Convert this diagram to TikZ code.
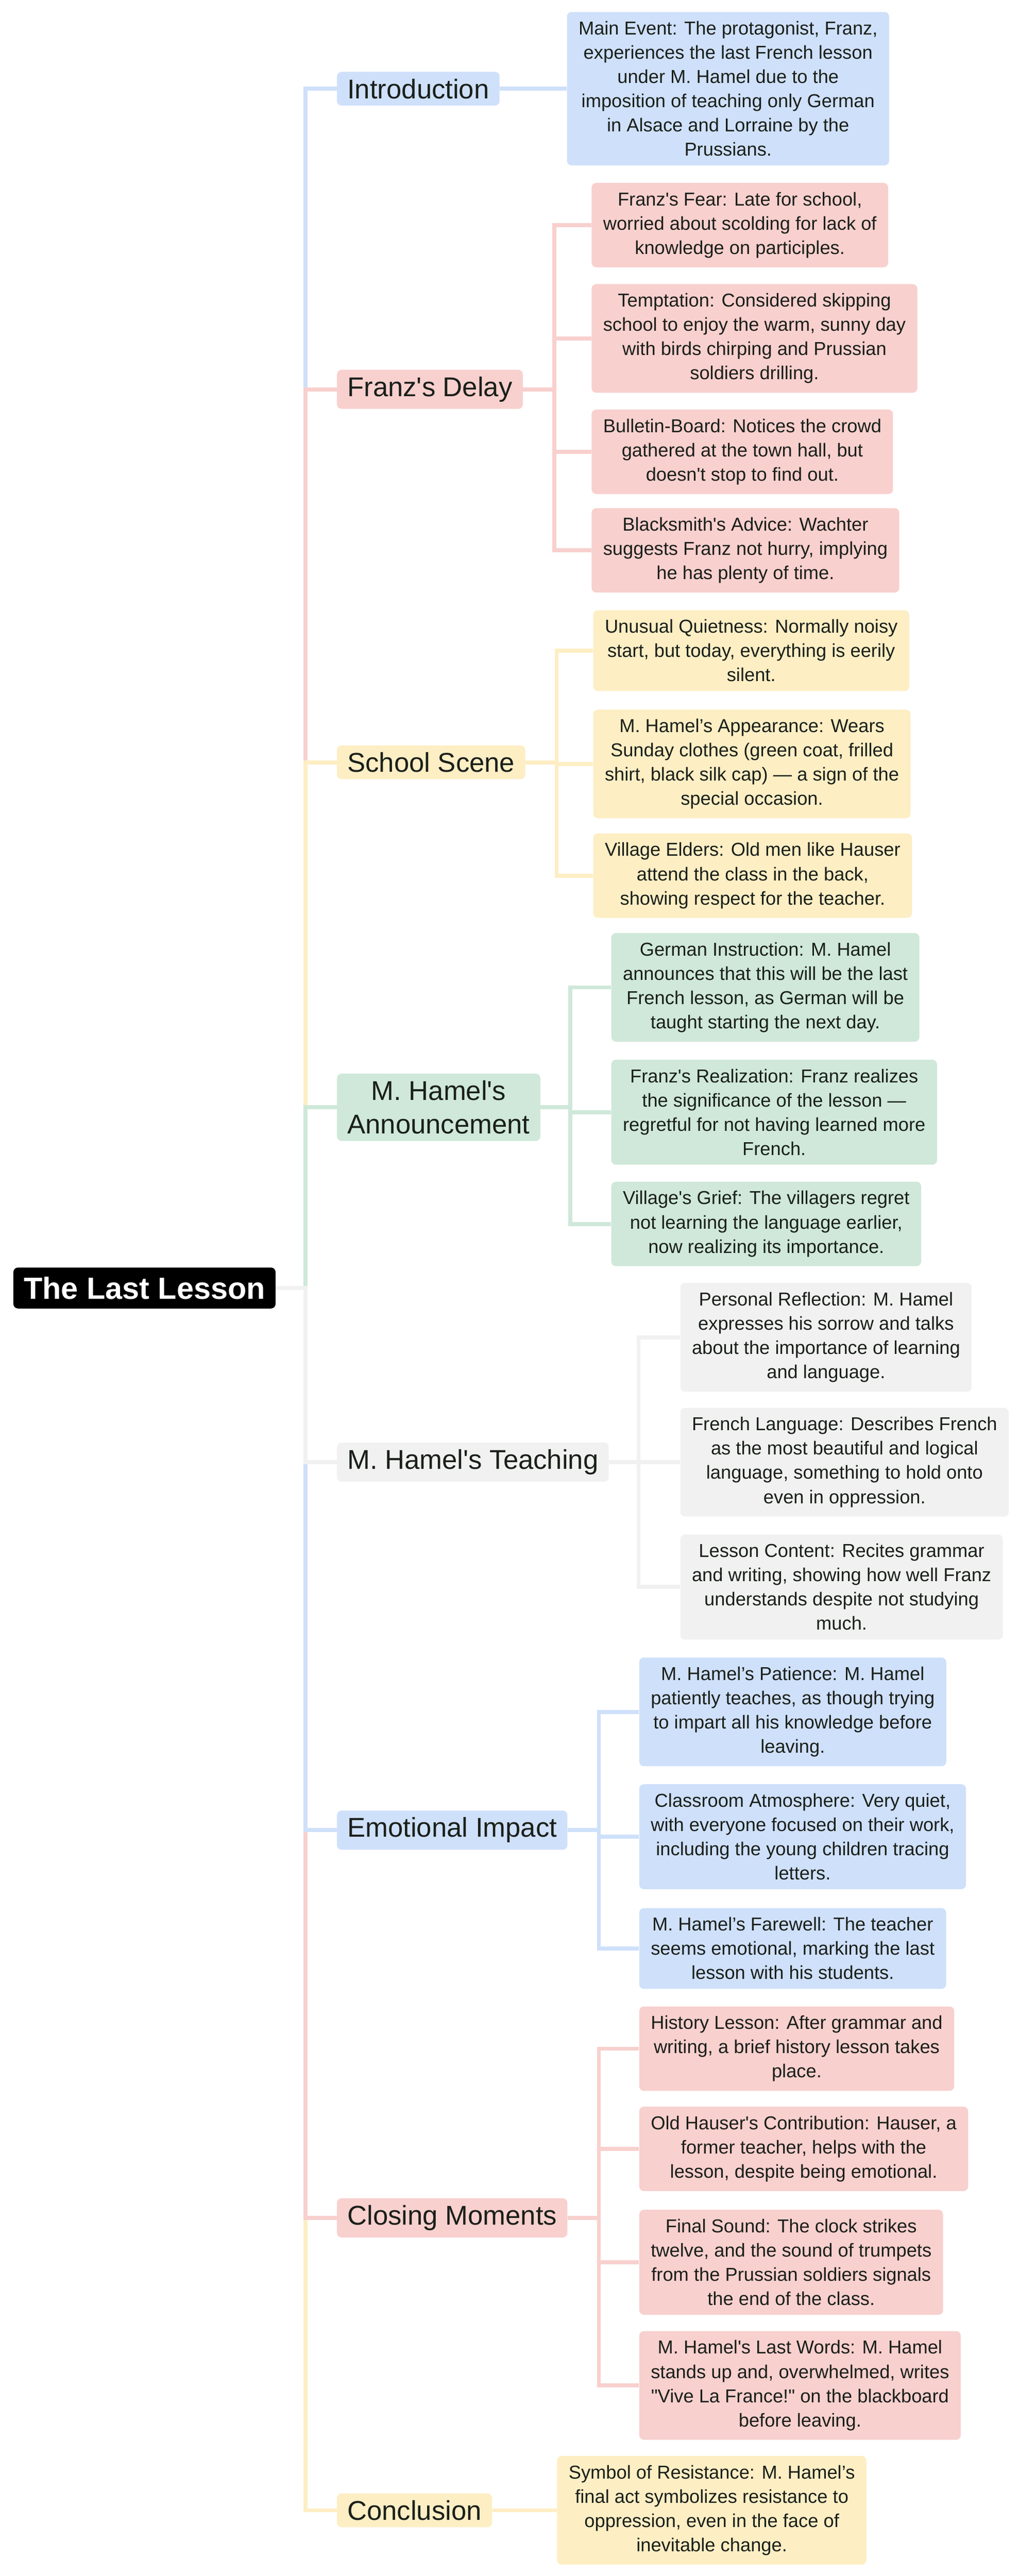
\documentclass[tikz,border=0pt]{standalone}
\usepackage{fontspec}
\defaultfontfeatures{}
\defaultfontfeatures[\rmfamily]{}
\setmainfont{Liberation Sans}
\definecolor{bluefill}{HTML}{CFE0FA}
\definecolor{redfill}{HTML}{F8D0CE}
\definecolor{yellowfill}{HTML}{FDEEC4}
\definecolor{greenfill}{HTML}{CFE8D9}
\definecolor{greyfill}{HTML}{F0F1F0}
\definecolor{inkcol}{HTML}{1A1F1A}
\begin{document}
\begin{tikzpicture}[x=0.05cm,y=-0.05cm]
	\tikzset{
		root/.style={fill=black,text=white,rounded corners=4pt,font=\fontsize{26.5}{30}\selectfont\bfseries,inner xsep=9pt,inner ysep=8pt,anchor=west},
		branch/.style={fill=#1,text=inkcol,rounded corners=4pt,font=\fontsize{23.5}{29}\selectfont,align=center,inner xsep=9pt,inner ysep=6pt,anchor=west},
		leaf/.style={fill=#1,text=inkcol,rounded corners=4pt,font=\fontsize{16.2}{21}\selectfont,align=center,inner xsep=10pt,inner ysep=8pt,anchor=west},
		conn/.style={draw=#1,line width=3.5pt}
	}
	\fill[white] (0,0) rectangle (620,1568);

	\node[root] (ROOT) at (8,784) {The Last Lesson};

	% branches
	\node[branch=bluefill] (INTRO) at (205,54) {Introduction};
	\node[branch=redfill] (DELAY) at (205,237) {Franz's Delay};
	\node[branch=yellowfill] (SCHOOL) at (205,464) {School Scene};
	\node[branch=greenfill] (ANNOUNCE) at (205,674) {M. Hamel's\\Announcement};
	\node[branch=greyfill] (TEACH) at (205,890) {M. Hamel's Teaching};
	\node[branch=bluefill] (IMPACT) at (205,1114) {Emotional Impact};
	\node[branch=redfill] (CLOSING) at (205,1350) {Closing Moments};
	\node[branch=yellowfill] (CONCL) at (205,1528) {Conclusion};

	% leaves
	\node[leaf=bluefill] (INTRO1) at (345,54) {Main Event: The protagonist, Franz,\\experiences the last French lesson\\under M. Hamel due to the\\imposition of teaching only German\\in Alsace and Lorraine by the\\Prussians.};

	\node[leaf=redfill] (DELAY1) at (360,137) {Franz's Fear: Late for school,\\worried about scolding for lack of\\knowledge on participles.};
	\node[leaf=redfill] (DELAY2) at (360,206) {Temptation: Considered skipping\\school to enjoy the warm, sunny day\\with birds chirping and Prussian\\soldiers drilling.};
	\node[leaf=redfill] (DELAY3) at (360,275) {Bulletin-Board: Notices the crowd\\gathered at the town hall, but\\doesn't stop to find out.};
	\node[leaf=redfill] (DELAY4) at (360,335) {Blacksmith's Advice: Wachter\\suggests Franz not hurry, implying\\he has plenty of time.};

	\node[leaf=yellowfill] (SCHOOL1) at (361,396) {Unusual Quietness: Normally noisy\\start, but today, everything is eerily\\silent.};
	\node[leaf=yellowfill] (SCHOOL2) at (361,465) {M. Hamel’s Appearance: Wears\\Sunday clothes (green coat, frilled\\shirt, black silk cap) — a sign of the\\special occasion.};
	\node[leaf=yellowfill] (SCHOOL3) at (361,533) {Village Elders: Old men like Hauser\\attend the class in the back,\\showing respect for the teacher.};

	\node[leaf=greenfill] (ANNOUNCE1) at (372,601) {German Instruction: M. Hamel\\announces that this will be the last\\French lesson, as German will be\\taught starting the next day.};
	\node[leaf=greenfill] (ANNOUNCE2) at (372,677) {Franz's Realization: Franz realizes\\the significance of the lesson —\\regretful for not having learned more\\French.};
	\node[leaf=greenfill] (ANNOUNCE3) at (372,745) {Village's Grief: The villagers regret\\not learning the language earlier,\\now realizing its importance.};

	\node[leaf=greyfill] (TEACH1) at (414,814) {Personal Reflection: M. Hamel\\expresses his sorrow and talks\\about the importance of learning\\and language.};
	\node[leaf=greyfill] (TEACH2) at (414,890) {French Language: Describes French\\as the most beautiful and logical\\language, something to hold onto\\even in oppression.};
	\node[leaf=greyfill] (TEACH3) at (414,966) {Lesson Content: Recites grammar\\and writing, showing how well Franz\\understands despite not studying\\much.};

	\node[leaf=bluefill] (IMPACT1) at (389,1042) {M. Hamel’s Patience: M. Hamel\\patiently teaches, as though trying\\to impart all his knowledge before\\leaving.};
	\node[leaf=bluefill] (IMPACT2) at (389,1118) {Classroom Atmosphere: Very quiet,\\with everyone focused on their work,\\including the young children tracing\\letters.};
	\node[leaf=bluefill] (IMPACT3) at (389,1186) {M. Hamel’s Farewell: The teacher\\seems emotional, marking the last\\lesson with his students.};

	\node[leaf=redfill] (CLOSING1) at (389,1247) {History Lesson: After grammar and\\writing, a brief history lesson takes\\place.};
	\node[leaf=redfill] (CLOSING2) at (389,1308) {Old Hauser's Contribution: Hauser, a\\former teacher, helps with the\\lesson, despite being emotional.};
	\node[leaf=redfill] (CLOSING3) at (389,1377) {Final Sound: The clock strikes\\twelve, and the sound of trumpets\\from the Prussian soldiers signals\\the end of the class.};
	\node[leaf=redfill] (CLOSING4) at (389,1452) {M. Hamel's Last Words: M. Hamel\\stands up and, overwhelmed, writes\\"Vive La France!" on the blackboard\\before leaving.};

	\node[leaf=yellowfill] (CONCL1) at (339,1528) {Symbol of Resistance: M. Hamel’s\\final act symbolizes resistance to\\oppression, even in the face of\\inevitable change.};

	% root to branches, far ones first
	\draw[conn=bluefill] (ROOT.east) -- ++(18,0) |- (INTRO.west);
	\draw[conn=redfill] (ROOT.east) -- ++(18,0) |- (DELAY.west);
	\draw[conn=yellowfill] (ROOT.east) -- ++(18,0) |- (SCHOOL.west);
	\draw[conn=greenfill] (ROOT.east) -- ++(18,0) |- (ANNOUNCE.west);
	\draw[conn=yellowfill] (ROOT.east) -- ++(18,0) |- (CONCL.west);
	\draw[conn=redfill] (ROOT.east) -- ++(18,0) |- (CLOSING.west);
	\draw[conn=bluefill] (ROOT.east) -- ++(18,0) |- (IMPACT.west);
	\draw[conn=greyfill] (ROOT.east) -- ++(18,0) |- (TEACH.west);

	% branches to leaves
	\draw[conn=bluefill] (INTRO.east) -- (INTRO1.west);
	\foreach \n in {1,...,4} \draw[conn=redfill] (DELAY.east) -- ++(19,0) |- (DELAY\n.west);
	\foreach \n in {1,...,3} \draw[conn=yellowfill] (SCHOOL.east) -- ++(19,0) |- (SCHOOL\n.west);
	\foreach \n in {1,...,3} \draw[conn=greenfill] (ANNOUNCE.east) -- ++(18,0) |- (ANNOUNCE\n.west);
	\foreach \n in {1,...,3} \draw[conn=greyfill] (TEACH.east) -- ++(18,0) |- (TEACH\n.west);
	\foreach \n in {1,...,3} \draw[conn=bluefill] (IMPACT.east) -- ++(19,0) |- (IMPACT\n.west);
	\foreach \n in {1,...,4} \draw[conn=redfill] (CLOSING.east) -- ++(19,0) |- (CLOSING\n.west);
	\draw[conn=yellowfill] (CONCL.east) -- (CONCL1.west);
\end{tikzpicture}
\end{document}
